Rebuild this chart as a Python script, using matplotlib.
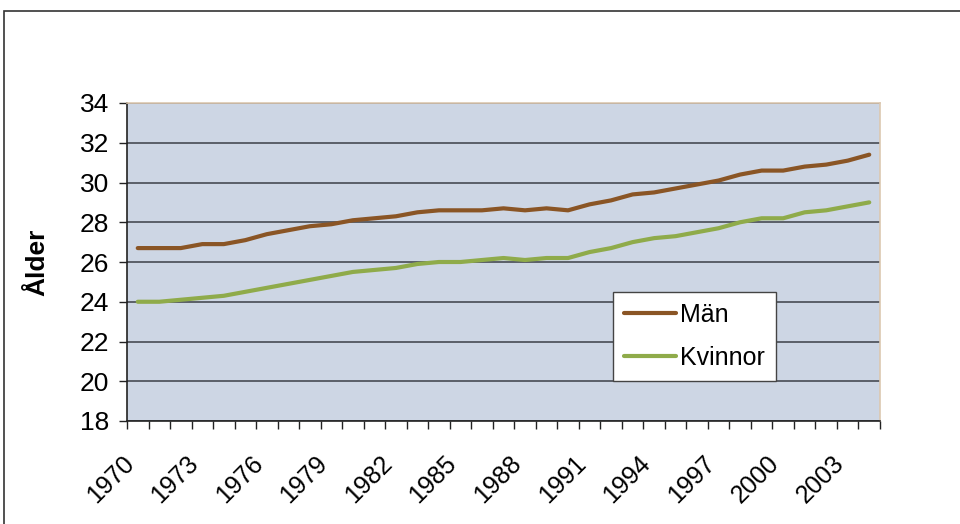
import matplotlib.pyplot as plt
from matplotlib.patches import Rectangle
from matplotlib.transforms import ScaledTranslation, blended_transform_factory

plt.rcParams['font.family'] = ['Liberation Sans', 'DejaVu Sans']

years = list(range(1970, 2005))
man = [26.7, 26.7, 26.7, 26.9, 26.9, 27.1, 27.4, 27.6, 27.8, 27.9,
       28.1, 28.2, 28.3, 28.5, 28.6, 28.6, 28.6, 28.7, 28.6, 28.7,
       28.6, 28.9, 29.1, 29.4, 29.5, 29.7, 29.9, 30.1, 30.4, 30.6,
       30.6, 30.8, 30.9, 31.1, 31.4]
kvinnor = [24.0, 24.0, 24.1, 24.2, 24.3, 24.5, 24.7, 24.9, 25.1, 25.3,
           25.5, 25.6, 25.7, 25.9, 26.0, 26.0, 26.1, 26.2, 26.1, 26.2,
           26.2, 26.5, 26.7, 27.0, 27.2, 27.3, 27.5, 27.7, 28.0, 28.2,
           28.2, 28.5, 28.6, 28.8, 29.0]
yticks = list(range(18, 35, 2))

W, H = 960, 524
fig = plt.figure(figsize=(W / 100, H / 100), dpi=100)
fig.patch.set_facecolor('white')

# outer chart border (cut off at right/bottom)
fig.add_artist(Rectangle((4 / W, -0.1), 1.2, 1.1 - 11 / H, transform=fig.transFigure,
                         fill=False, edgecolor='#333333', linewidth=1.2))

left, right, top, bottom = 127, 880, 103, 421
ax = fig.add_axes([left / W, 1 - bottom / H, (right - left) / W, (bottom - top) / H])
ax.set_facecolor('#CDD6E4')

x = list(range(len(years)))
ax.plot(x, man, color='#8A5525', linewidth=3, solid_capstyle='round', label='Män', zorder=3)
ax.plot(x, kvinnor, color='#8FAB4A', linewidth=3, solid_capstyle='round', label='Kvinnor', zorder=3)

ax.set_yticks(yticks)
ax.set_yticklabels([str(v) for v in yticks])
ax.yaxis.grid(True, color='#5A5F68', linewidth=1.4)
ax.set_axisbelow(True)

# category boundaries as ticks; year labels every third category
ax.set_xticks([i - 0.5 for i in range(len(years) + 1)])
ax.set_xticklabels([])
ax.tick_params(axis='x', length=6, width=1, color='#222222', direction='out')
ax.tick_params(axis='y', length=6, width=1, color='#222222', labelsize=19, pad=7)

ax.set_xlim(-0.5, len(years) - 0.5)
ax.set_ylim(18, 34)

# rotated labels sit a little left of their category, as in the original
trans = blended_transform_factory(ax.transData, ax.transAxes) + \
    ScaledTranslation(-0.16, -0.3, fig.dpi_scale_trans)
for p in x[::3]:
    ax.text(p, 0, str(years[p]), transform=trans, rotation=45, ha='right', va='top',
            rotation_mode='anchor', fontsize=18)

for s in ['left', 'bottom']:
    ax.spines[s].set_color('#222222')
    ax.spines[s].set_linewidth(1.2)
for s in ['top', 'right']:
    ax.spines[s].set_color('#DCC8B0')
    ax.spines[s].set_linewidth(1.2)

ax.set_ylabel('Ålder', fontsize=19, fontweight='bold', labelpad=22)

leg = ax.legend(loc='upper left', bbox_to_anchor=(0.645, 0.406), fontsize=18,
                frameon=True, fancybox=False, handlelength=2.1, handletextpad=0.15,
                borderpad=0.45, labelspacing=0.75, borderaxespad=0)
leg.get_frame().set_edgecolor('#444444')
leg.get_frame().set_linewidth(1.0)
leg.get_frame().set_facecolor('white')
leg.get_frame().set_alpha(1)

fig.savefig('out.png', dpi=100)
